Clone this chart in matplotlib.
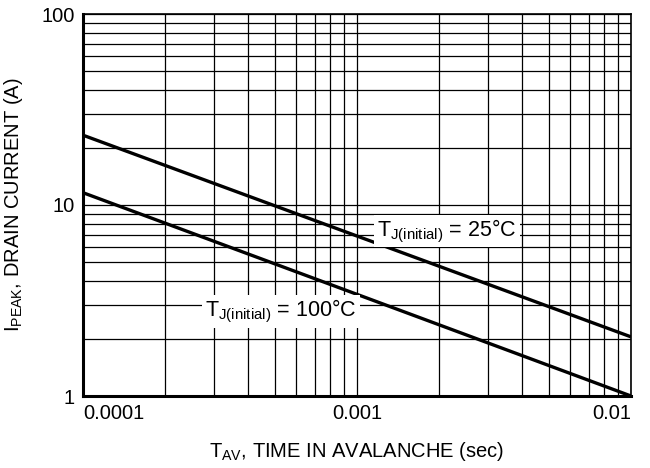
import matplotlib
matplotlib.use("Agg")
import matplotlib.pyplot as plt
from matplotlib.ticker import LogLocator, NullFormatter, FixedLocator, FixedFormatter

plt.rcParams['font.family'] = ['Liberation Sans', 'DejaVu Sans']
plt.rcParams['mathtext.fontset'] = 'custom'
plt.rcParams['mathtext.rm'] = 'Liberation Sans'
plt.rcParams['mathtext.it'] = 'Liberation Sans'

# Data
t_av = [1e-4, 1e-2]
i_25 = [23.2, 2.04]
i_100 = [11.6, 1.0]
x_ticks = [1e-4, 1e-3, 1e-2]
x_ticklabels = ['0.0001', '0.001', '0.01']
y_ticks = [1, 10, 100]
y_ticklabels = ['1', '10', '100']
label_25 = r'T$_{\mathrm{J(initial)}}$ = 25°C'
label_100 = r'T$_{\mathrm{J(initial)}}$ = 100°C'

fig = plt.figure(figsize=(6.5, 4.68), dpi=100)
ax = fig.add_axes([83/650, 1 - 396/468, (631-83)/650, (396-14)/468])
ax.set_xscale('log')
ax.set_yscale('log')
ax.set_xlim(1e-4, 1e-2)
ax.set_ylim(1, 100)

ax.xaxis.set_major_locator(FixedLocator(x_ticks))
ax.xaxis.set_major_formatter(FixedFormatter(x_ticklabels))
ax.yaxis.set_major_locator(FixedLocator(y_ticks))
ax.yaxis.set_major_formatter(FixedFormatter(y_ticklabels))
ax.xaxis.set_minor_locator(LogLocator(base=10, subs=range(2, 10)))
ax.yaxis.set_minor_locator(LogLocator(base=10, subs=range(2, 10)))
ax.xaxis.set_minor_formatter(NullFormatter())
ax.yaxis.set_minor_formatter(NullFormatter())

ax.grid(True, which='both', color='black', linewidth=0.9)
ax.tick_params(which='both', length=0, labelsize=14.5, colors='black', pad=6)
ax.set_axisbelow(True)

xt = ax.get_xticklabels()
xt[0].set_horizontalalignment('left')
xt[-1].set_horizontalalignment('right')

for s in ['left', 'bottom']:
    ax.spines[s].set_linewidth(2.2)
for s in ['top', 'right']:
    ax.spines[s].set_linewidth(1.2)

ax.plot(t_av, i_25, color='black', linewidth=2.4, solid_capstyle='butt', zorder=3)
ax.plot(t_av, i_100, color='black', linewidth=2.4, solid_capstyle='butt', zorder=3)

bbox = dict(facecolor='white', edgecolor='none', pad=2)
ax.text(2.13e-3, 7.3, label_25, fontsize=15.5, ha='center', va='center', bbox=bbox, zorder=4)
ax.text(5.28e-4, 2.78, label_100, fontsize=15.5, ha='center', va='center', bbox=bbox, zorder=4)

ax.set_xlabel(r'T$_{\mathrm{AV}}$, TIME IN AVALANCHE (sec)', fontsize=14.5, labelpad=12)
ax.set_ylabel(r'I$_{\mathrm{PEAK}}$, DRAIN CURRENT (A)', fontsize=14.5, labelpad=12)

fig.savefig('out.png', dpi=100)
